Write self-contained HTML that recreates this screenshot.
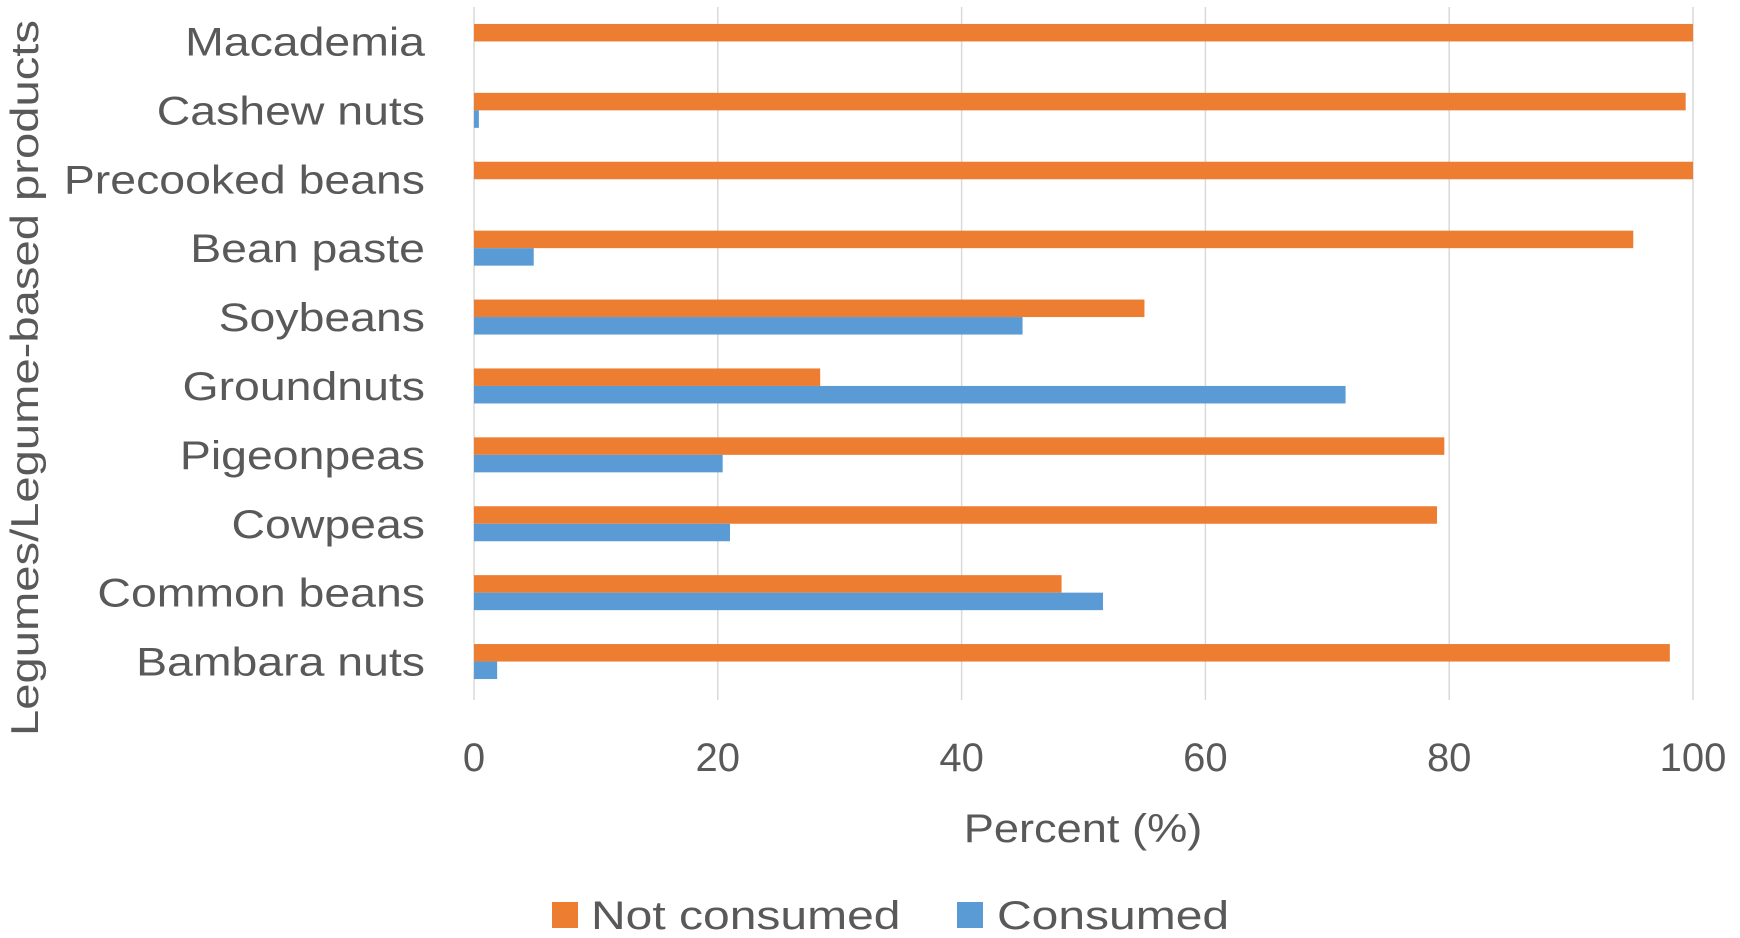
<!DOCTYPE html>
<html><head><meta charset="utf-8"><style>
html,body{margin:0;padding:0;background:#fff;}
svg{display:block;font-family:"Liberation Sans",sans-serif;}
</style></head><body>
<svg id="chart" width="1740" height="938"></svg>
<script>
const categories=["Macademia","Cashew nuts","Precooked beans","Bean paste","Soybeans","Groundnuts","Pigeonpeas","Cowpeas","Common beans","Bambara nuts"];
const notConsumed=[100,99.4,100,95.1,55,28.4,79.6,79,48.2,98.1];
const consumed=[0,0.4,0,4.9,45,71.5,20.4,21,51.6,1.9];
const ticks=[0,20,40,60,80,100];
const NS="http://www.w3.org/2000/svg";
const svg=document.getElementById('chart');
const X0=474,X1=1693,Y0=7,Y1=696;
const band=(Y1-Y0)/categories.length, bh=17.5;
const x=v=>X0+(X1-X0)*v/100;
const yc=i=>Y0+band*(i+0.5);
function mk(t,a,p){const e=document.createElementNS(NS,t);for(const k in a)e.setAttribute(k,a[k]);(p||svg).appendChild(e);return e;}
function stretch(el,f){const w=el.getComputedTextLength();el.setAttribute('textLength',w*f);el.setAttribute('lengthAdjust','spacingAndGlyphs');}
ticks.forEach(t=>{
 const g=mk('line',{x1:x(t),x2:x(t),y1:Y0,y2:700,stroke:'#d9d9d9','stroke-width':1.5});
 
 
 const l=mk('text',{x:x(t),y:771,'text-anchor':'middle','font-size':40,fill:'#595959'});
 l.textContent=t;
 
 
});
categories.forEach((c,i)=>{
 const cy=yc(i);
 const o=mk('rect',{x:X0,y:cy-bh,width:x(notConsumed[i])-X0,height:bh,fill:'#ed7d31'});
 
 
 const b=mk('rect',{x:X0,y:cy,width:x(consumed[i])-X0,height:bh,fill:'#5b9bd5'});
 
 
 const t=mk('text',{x:425,y:cy+14,'text-anchor':'end','font-size':40,fill:'#595959'});
 t.textContent=c;
 
 
 stretch(t,1.16);
});
const xt=mk('text',{x:1083,y:842,'text-anchor':'middle','font-size':40,fill:'#595959'});
xt.textContent='Percent (%)';


stretch(xt,1.13);
const yt=mk('text',{x:0,y:0,'text-anchor':'middle','font-size':39,fill:'#595959',transform:'translate(38,378) rotate(-90)'});
yt.textContent='Legumes/Legume-based products';


yt.setAttribute('textLength',716);
yt.setAttribute('lengthAdjust','spacingAndGlyphs');
const l1=mk('rect',{x:552,y:902,width:26,height:26,fill:'#ed7d31'});


const l1t=mk('text',{x:591,y:929,'font-size':40,fill:'#595959'});
l1t.textContent='Not consumed';


stretch(l1t,1.2);
const l2=mk('rect',{x:957,y:902,width:26,height:26,fill:'#5b9bd5'});


const l2t=mk('text',{x:997,y:929,'font-size':40,fill:'#595959'});
l2t.textContent='Consumed';


stretch(l2t,1.2);
</script>
</body></html>
